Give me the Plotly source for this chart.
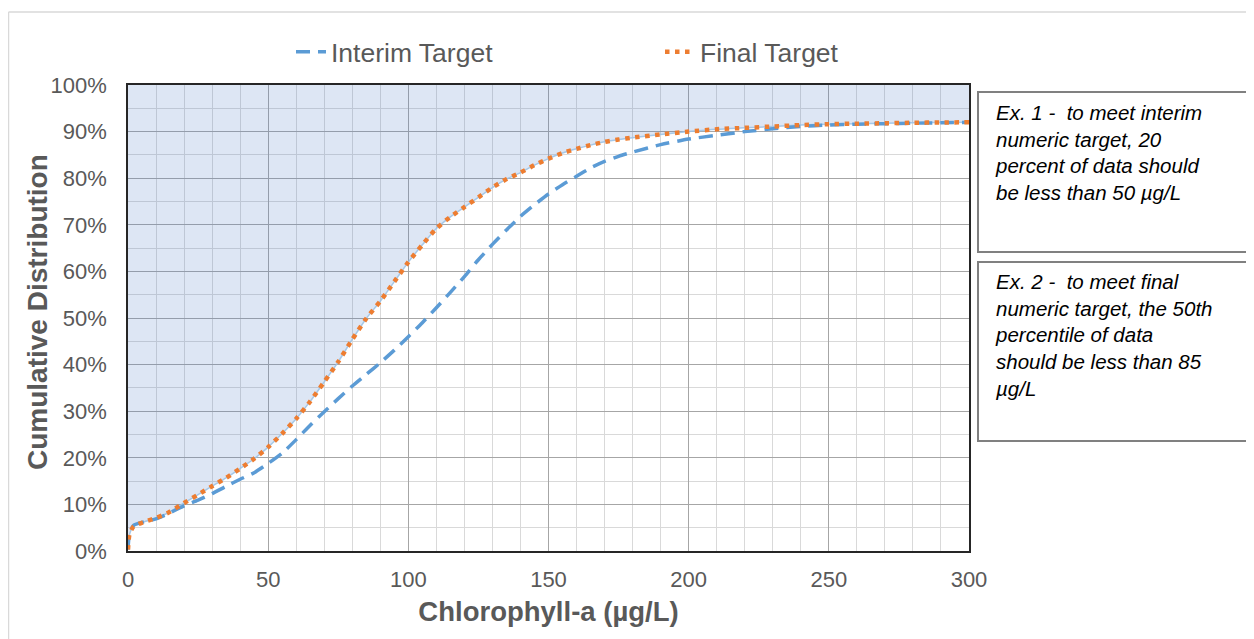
import plotly.graph_objects as go

# ---- data ----
final_x = [0, 0.5, 2, 6, 10, 14, 20, 25, 30, 35, 40, 45, 50, 55, 60, 65, 70, 75, 80, 85,
           90, 95, 100, 105, 110, 115, 120, 125, 130, 135, 140, 145, 150, 155, 160, 165,
           170, 175, 180, 190, 200, 210, 220, 230, 240, 250, 260, 270, 280, 290, 300]
final_pct = [0.3, 3.5, 5.3, 6.3, 7.1, 8.1, 10.3, 12.1, 13.9, 15.7, 17.7, 19.8, 22.3, 25.2,
             28.4, 32.1, 36.3, 40.6, 45.4, 49.9, 53.6, 57.8, 62.0, 65.7, 69.2, 71.7, 73.8,
             75.9, 78.0, 79.8, 81.2, 82.8, 84.2, 85.4, 86.3, 87.1, 87.8, 88.3, 88.7, 89.4,
             90.0, 90.5, 90.8, 91.1, 91.4, 91.6, 91.7, 91.8, 91.9, 91.95, 92.0]

interim_x = [0, 0.5, 2, 6, 10, 14, 20, 25, 30, 35, 40, 45, 50, 55, 60, 65, 70, 75, 80, 85,
             90, 95, 100, 105, 110, 115, 120, 125, 130, 135, 140, 145, 150, 155, 160, 165,
             170, 175, 180, 190, 200, 210, 220, 230, 240, 250, 260, 270, 280, 290, 300]
interim_pct = [0.3, 3.5, 5.5, 6.3, 6.9, 7.9, 9.7, 10.9, 12.3, 13.9, 15.4, 16.8, 18.8, 21.0,
               23.9, 27.0, 29.9, 32.7, 35.4, 37.9, 40.4, 43.1, 46.0, 49.0, 52.2, 55.5, 58.9,
               62.5, 65.8, 68.9, 71.8, 74.3, 76.6, 78.6, 80.4, 82.2, 83.6, 84.7, 85.6, 87.2,
               88.4, 89.2, 90.0, 90.6, 91.1, 91.4, 91.6, 91.7, 91.8, 91.9, 92.0]

x_ticks = [0, 50, 100, 150, 200, 250, 300]
y_ticks = [0, 0.1, 0.2, 0.3, 0.4, 0.5, 0.6, 0.7, 0.8, 0.9, 1.0]

x_title = "Chlorophyll-a (µg/L)"
y_title = "Cumulative Distribution"
note1 = "Ex. 1 -  to meet interim<br>numeric target, 20<br>percent of data should<br>be less than 50 µg/L"
note2 = "Ex. 2 -  to meet final<br>numeric target, the 50th<br>percentile of data<br>should be less than 85<br>µg/L"

final_y = [v / 100 for v in final_pct]
interim_y = [v / 100 for v in interim_pct]
top_y = [1.0 for _ in final_x]

# page body has an 8px margin, so the figure is 8px smaller than the window
OFF = 8
W, H = 1254 - OFF, 639 - OFF
L, R, T, B = 128, 969, 85, 551   # plot area in screen pixels


def px(xp):
    return (xp - L) / (R - L)


def py(yp):
    return (B - yp) / (B - T)


FONT = "Liberation Sans, Arial, sans-serif"
GRAY = "#595959"

fig = go.Figure()

# shaded area above the final target curve
fig.add_trace(go.Scatter(x=final_x, y=final_y, mode="lines",
                         line=dict(color="rgba(157,195,230,0.9)", width=1.5, shape="spline", smoothing=0.6),
                         showlegend=False, hoverinfo="skip"))
fig.add_trace(go.Scatter(x=final_x, y=top_y, mode="lines", line=dict(width=0),
                         fill="tonexty", fillcolor="rgba(68,114,196,0.18)",
                         showlegend=False, hoverinfo="skip"))

fig.add_trace(go.Scatter(x=interim_x, y=interim_y, mode="lines", name="Interim Target",
                         line=dict(color="#5B9BD5", width=3.5, dash="14px,8px", shape="spline", smoothing=0.6)))
fig.add_trace(go.Scatter(x=final_x, y=final_y, mode="lines", name="Final Target",
                         line=dict(color="#ED7D31", width=4.5, dash="4.5px,5.5px", shape="spline", smoothing=0.6)))

fig.update_xaxes(range=[0, 300], tickvals=x_ticks, showgrid=True, gridcolor="#A6A6A6", gridwidth=1.2,
                 minor=dict(dtick=10, showgrid=True, gridcolor="#D9D9D9", gridwidth=1),
                 showline=True, linecolor="#262626", linewidth=1.5, mirror=True,
                 zeroline=False, ticks="", ticklabelstandoff=8,
                 tickfont=dict(family=FONT, size=22, color=GRAY),
                 title=dict(text=x_title, standoff=11,
                            font=dict(family=FONT, size=27.5, color=GRAY, weight="bold")),
                 automargin=False)
fig.update_yaxes(range=[0, 1], tickvals=y_ticks, tickformat=".0%", showgrid=True,
                 gridcolor="#A6A6A6", gridwidth=1.2,
                 minor=dict(dtick=0.05, showgrid=True, gridcolor="#D9D9D9", gridwidth=1),
                 showline=True, linecolor="#262626", linewidth=1.5, mirror=True,
                 zeroline=False, ticks="", ticklabelstandoff=15,
                 tickfont=dict(family=FONT, size=22, color=GRAY),
                 automargin=False)

shapes = [
    # outer chart border (top and left visible)
    dict(type="line", xref="paper", yref="paper", x0=px(8.5), x1=px(1260), y0=py(12), y1=py(12),
         line=dict(color="#D9D9D9", width=1.5)),
    dict(type="line", xref="paper", yref="paper", x0=px(8.5), x1=px(8.5), y0=py(12), y1=py(645),
         line=dict(color="#D9D9D9", width=1.5)),
    # text boxes
    dict(type="rect", xref="paper", yref="paper", x0=px(978), x1=px(1262), y0=py(252), y1=py(92),
         line=dict(color="#808080", width=2), fillcolor="white"),
    dict(type="rect", xref="paper", yref="paper", x0=px(978), x1=px(1262), y0=py(441), y1=py(262),
         line=dict(color="#808080", width=2), fillcolor="white"),
]

annotations = [
    dict(text=y_title, xref="paper", yref="paper", x=px(37), y=py(312), textangle=-90,
         xanchor="center", yanchor="middle", showarrow=False,
         font=dict(family=FONT, size=28, color=GRAY, weight="bold")),
    dict(text="<i>" + note1 + "</i>", xref="paper", yref="paper", x=px(993), y=py(99),
         xanchor="left", yanchor="top", align="left", showarrow=False,
         font=dict(family=FONT, size=20.5, color="#000000")),
    dict(text="<i>" + note2 + "</i>", xref="paper", yref="paper", x=px(993), y=py(268),
         xanchor="left", yanchor="top", align="left", showarrow=False,
         font=dict(family=FONT, size=20.5, color="#000000")),
]

fig.update_layout(
    width=W, height=H,
    margin=dict(l=L - OFF, r=W - (R - OFF), t=T - OFF, b=H - (B - OFF), autoexpand=False),
    paper_bgcolor="white", plot_bgcolor="white",
    shapes=shapes, annotations=annotations,
    legend=dict(orientation="h", x=px(291), y=py(52), xanchor="left", yanchor="middle",
                traceorder="normal",
                font=dict(family=FONT, size=26.5, color=GRAY),
                entrywidth=324, entrywidthmode="pixels", bgcolor="rgba(0,0,0,0)"),
    showlegend=True,
)

fig.write_html("out.html")
